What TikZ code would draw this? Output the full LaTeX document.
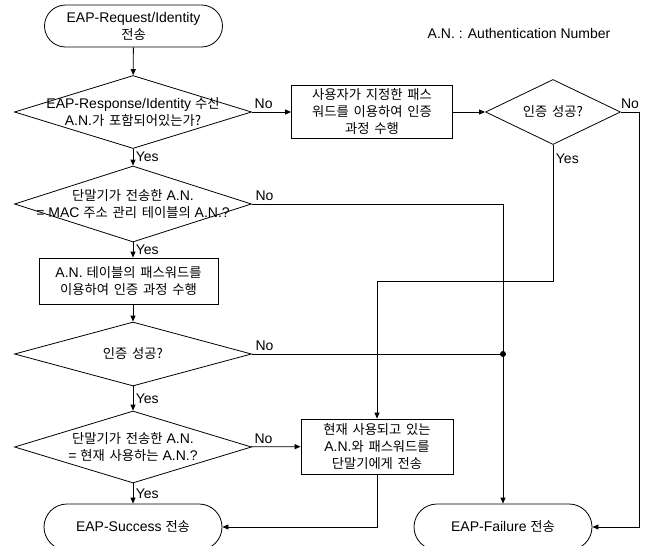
\documentclass[tikz,border=0pt]{standalone}
\usepackage{fontspec}
\setmainfont{Liberation Sans}
\newfontfamily\kr[Scale=0.95, WordSpace=1.6]{Noto Sans CJK KR}
\usetikzlibrary{
  arrows.meta,
  shapes.geometric,
  shapes.misc
}

\begin{document}
\begin{tikzpicture}[
  x=1pt, y=-1pt,
  font=\fontsize{14}{17}\selectfont,
  terminal/.style={rounded rectangle, draw, line width=0.8pt,
                   minimum width=178pt, inner sep=0pt, align=center},
  procbox/.style={rectangle, draw, line width=0.8pt,
                  inner sep=0pt, align=center},
  decision/.style={diamond, draw, line width=0.8pt,
                   inner sep=0pt, minimum width=237pt},
  inside/.style={align=center, inner sep=0pt},
  flow/.style={draw, line width=0.8pt, -{Triangle[length=6pt,width=5pt]}},
  wire/.style={draw, line width=0.8pt},
  tag/.style={inner sep=2.5pt}
]
\useasboundingbox (0,0) rectangle (649,546);

\node[terminal, minimum height=42pt] (start) at (133.5,26)
  {EAP-Request/Identity\\{\kr 전송}};

\node[decision, minimum height=73pt,
      label={[inside]center:{EAP-Response/Identity {\kr 수신}\\A.N.{\kr 가 포함되어있는가?}}}]
  (d1) at (133,112) {};

\node[procbox, minimum width=161pt, minimum height=53pt] (p1) at (372,112)
  {{\kr 사용자가 지정한 패스}\\{\kr 워드를 이용하여 인증}\\{\kr 과정 수행}};

\node[decision, minimum width=135pt, minimum height=65pt,
      label={[inside]center:{\kr 인증 성공?}}]
  (d2) at (553,112) {};

\node[decision, minimum height=76pt,
      label={[inside]center:{{\kr 단말기가 전송한} A.N.\\= MAC {\kr 주소 관리 테이블의} A.N.?}}]
  (d3) at (133,204) {};

\node[procbox, minimum width=179pt, minimum height=46pt] (p2) at (128.5,281)
  {A.N. {\kr 테이블의 패스워드를}\\{\kr 이용하여 인증 과정 수행}};

\node[decision, minimum height=64pt,
      label={[inside]center:{\kr 인증 성공?}}]
  (d4) at (133,354) {};

\node[decision, minimum height=72pt,
      label={[inside]center:{{\kr 단말기가 전송한} A.N.\\= {\kr 현재 사용하는} A.N.?}}]
  (d5) at (133,447) {};

\node[procbox, minimum width=152pt, minimum height=55pt] (p3) at (377,446.5)
  {{\kr 현재 사용되고 있는}\\A.N.{\kr 와 패스워드를}\\{\kr 단말기에게 전송}};

\node[terminal, minimum height=46pt] (succ) at (133,527) {EAP-Success {\kr 전송}};
\node[terminal, minimum height=46pt] (fail) at (503,527) {EAP-Failure {\kr 전송}};

\node (note) at (519,33) {A.N. : Authentication Number};

\coordinate (d2no) at (639,112);
\coordinate (d2yes) at (553,281);
\coordinate (d3no) at (503,204);
\coordinate (dot) at (503,354);

\draw[flow] (start) -- (d1);
\draw[flow] (d1) -- node[tag, above, pos=0.3] {No} (p1);
\draw[flow] (d1) -- node[tag, right] {Yes} (d3);
\draw[flow] (p1) -- (d2);
\draw[flow] (d2.east) -- node[tag, above] {No} (d2no) |- (fail.east);
\draw[flow] (d2.south) -- node[tag, right, pos=0.1] {Yes} (d2yes) -| (p3.north);
\draw[flow] (d3.east) -- node[tag, above, pos=0.05] {No} (d3no) -- (fail.north);
\draw[flow] (d3.south) -- node[tag, right] {Yes} (d3.south |- p2.north);
\draw[flow] (d3.south |- p2.south) -- (d4.north);
\draw[wire] (d4.east) -- node[tag, above, pos=0.05] {No} (dot);
\fill (dot) circle (3pt);
\draw[flow] (d4) -- node[tag, right] {Yes} (d5);
\draw[flow] (d5) -- node[tag, above, pos=0.25] {No} (p3);
\draw[flow] (d5) -- node[tag, right] {Yes} (succ);
\draw[flow] (p3.south) |- (succ.east);

\end{tikzpicture}
\end{document}
